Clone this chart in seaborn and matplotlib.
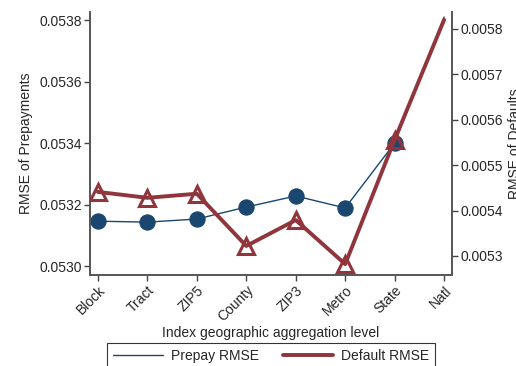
import matplotlib
matplotlib.use("Agg")
import matplotlib.pyplot as plt
import seaborn as sns
import pandas as pd
from matplotlib.lines import Line2D

levels = ["Block", "Tract", "ZIP5", "County", "ZIP3", "Metro", "State", "Natl"]
prepay_rmse = [0.053146, 0.053143, 0.053153, 0.053192, 0.053228, 0.053189, 0.053400, 0.053810]
default_rmse = [0.005441, 0.005428, 0.005437, 0.005322, 0.005379, 0.005282, 0.005556, 0.005820]

left_ticks = [0.0530, 0.0532, 0.0534, 0.0536, 0.0538]
right_ticks = [0.0053, 0.0054, 0.0055, 0.0056, 0.0057, 0.0058]

NAVY = "#1a476f"
MAROON = "#90353b"

sns.set_style("ticks")
plt.rcParams["font.family"] = ["Liberation Sans", "DejaVu Sans"]
plt.rcParams["font.size"] = 10

df = pd.DataFrame({"level": levels, "prepay": prepay_rmse, "default": default_rmse})
df["pos"] = range(len(df))
# the national point carries no marker in the original
marked = list(range(len(df) - 1))

fig = plt.figure(figsize=(5.16, 3.66), dpi=100)
ax = fig.add_axes([0.1744, 0.2486, 0.7016, 0.7184])
ax2 = ax.twinx()

sns.lineplot(data=df, x="pos", y="prepay", ax=ax, color=NAVY, lw=1.0,
             marker="o", markersize=11, markeredgecolor=NAVY,
             markevery=marked, zorder=3)
sns.lineplot(data=df, x="pos", y="default", ax=ax2, color=MAROON, lw=2.8,
             marker="^", markersize=11, markerfacecolor="none",
             markeredgecolor=MAROON, markeredgewidth=2.2,
             markevery=marked, zorder=3)

ax.set_xlim(-0.16, 7.16)
ax.set_ylim(0.052971, 0.053826)
ax2.set_ylim(0.005258, 0.005837)

ax.set_xticks(df["pos"])
ax.set_xticklabels(levels, rotation=45, ha="right", rotation_mode="anchor")
ax.set_yticks(left_ticks)
ax.set_yticklabels([f"{v:.4f}" for v in left_ticks])
ax2.set_yticks(right_ticks)
ax2.set_yticklabels([f"{v:.4f}" for v in right_ticks])

ax.set_xlabel("Index geographic aggregation level", labelpad=1)
ax.set_ylabel("RMSE of Prepayments", labelpad=4)
ax2.set_ylabel("RMSE of Defaults", labelpad=4)

for a in (ax, ax2):
    a.tick_params(length=4, width=1, color="#444444", labelsize=10, pad=2)
    for s in a.spines.values():
        s.set_color("#555555")
        s.set_linewidth(1.2)
    a.spines["top"].set_visible(False)

handles = [Line2D([], [], color=NAVY, lw=1.0),
           Line2D([], [], color=MAROON, lw=2.8)]
leg = fig.legend(handles, ["Prepay RMSE", "Default RMSE"], loc="lower center",
                 bbox_to_anchor=(0.525, -0.026), ncol=2, frameon=True, fancybox=False,
                 edgecolor="black", handlelength=3.6, handletextpad=0.6,
                 columnspacing=1.7, fontsize=10)
leg.get_frame().set_linewidth(0.8)

plt.savefig("out.png", dpi=100)
plt.close()
